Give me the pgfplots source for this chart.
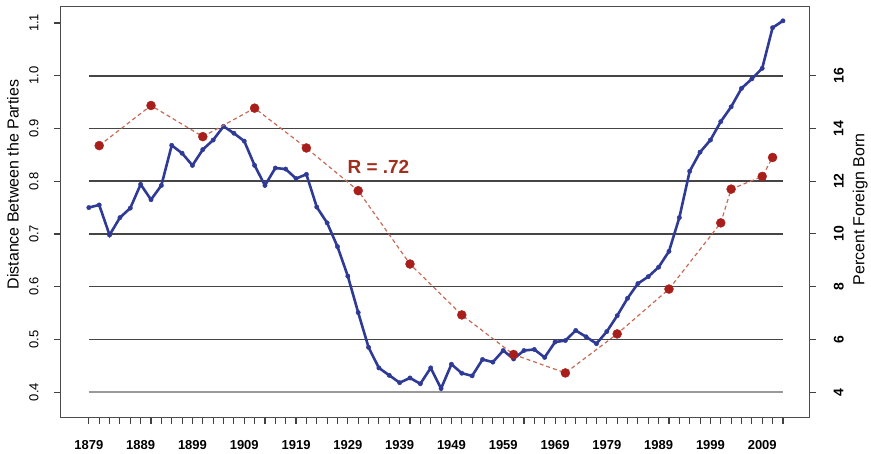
\documentclass[border=0pt]{standalone}
\usepackage{pgfplots}
\pgfplotsset{compat=1.18}
\usepackage{fontspec}
\setmainfont{Liberation Sans}
\definecolor{blueline}{HTML}{2E3A96}
\definecolor{reddot}{HTML}{A81E1A}
\definecolor{reddash}{HTML}{C86A55}
\definecolor{rtext}{HTML}{A0301E}
\definecolor{gridc}{HTML}{454545}
\begin{document}
\begin{tikzpicture}
\pgfplotsset{
  base/.style={
    scale only axis, width=750pt, height=411pt,
    xmin=1873.6, xmax=2018.1,
    tick align=outside,
    major tick length=7pt,
    every tick/.style={color=black!75, line width=1.1pt},
  }
}
\begin{axis}[base,
  ymin=0.3527, ymax=1.1303,
  axis line style={black!70, line width=1pt},
  xtick={1879,1881,...,2013},
  xticklabels={1879,,,,,1889,,,,,1899,,,,,1909,,,,,1919,,,,,1929,,,,,1939,,,,,1949,,,,,1959,,,,,1969,,,,,1979,,,,,1989,,,,,1999,,,,,2009,,},
  xtick pos=left, ytick pos=left,
  ytick={0.4,0.5,0.6,0.7,0.8,0.9,1.0,1.1},
  yticklabels={0.4,0.5,0.6,0.7,0.8,0.9,1.0,1.1},
  xticklabel style={font=\fontsize{13}{15}\selectfont\bfseries, yshift=-13pt},
  yticklabel style={font=\fontsize{13}{15}\selectfont, xshift=-12pt, rotate=90, anchor=south},
  ylabel={Distance Between the Parties},
  every axis y label/.style={at={(axis description cs:-0.064,0.567)}, rotate=90, anchor=center, font=\fontsize{16}{18}\selectfont},
]
\addplot[gridc!55, line width=1.6pt, forget plot] coordinates {(1879,0.4) (2013,0.4)};
\addplot[gridc, line width=1.6pt, forget plot] coordinates {(1879,0.5) (2013,0.5)};
\addplot[gridc, line width=1.6pt, forget plot] coordinates {(1879,0.6) (2013,0.6)};
\addplot[gridc, line width=1.6pt, forget plot] coordinates {(1879,0.7) (2013,0.7)};
\addplot[gridc, line width=1.6pt, forget plot] coordinates {(1879,0.8) (2013,0.8)};
\addplot[gridc, line width=1.6pt, forget plot] coordinates {(1879,0.9) (2013,0.9)};
\addplot[gridc, line width=1.6pt, forget plot] coordinates {(1879,1.0) (2013,1.0)};
\addplot[blueline, line width=2.6pt, mark=*, mark size=2.2pt, mark options={fill=blueline, draw=blueline, line width=0.4pt}] table {
year d
1879 0.750
1881 0.755
1883 0.698
1885 0.731
1887 0.749
1889 0.794
1891 0.765
1893 0.792
1895 0.868
1897 0.853
1899 0.830
1901 0.860
1903 0.878
1905 0.904
1907 0.891
1909 0.876
1911 0.830
1913 0.792
1915 0.825
1917 0.823
1919 0.805
1921 0.813
1923 0.751
1925 0.721
1927 0.676
1929 0.620
1931 0.551
1933 0.485
1935 0.446
1937 0.432
1939 0.418
1941 0.427
1943 0.416
1945 0.446
1947 0.407
1949 0.453
1951 0.436
1953 0.431
1955 0.462
1957 0.457
1959 0.479
1961 0.463
1963 0.479
1965 0.481
1967 0.466
1969 0.495
1971 0.498
1973 0.517
1975 0.505
1977 0.492
1979 0.515
1981 0.545
1983 0.578
1985 0.606
1987 0.619
1989 0.637
1991 0.667
1993 0.731
1995 0.819
1997 0.855
1999 0.878
2001 0.913
2003 0.941
2005 0.976
2007 0.994
2009 1.014
2011 1.091
2013 1.104
};
\node[text=rtext, font=\fontsize{19}{21}\selectfont\bfseries] at (axis cs:1934.9,0.8276) {R = .72};
\end{axis}
\begin{axis}[base,
  ymin=3.054, ymax=18.606,
  axis x line=none, axis y line*=right,
  axis line style={black!70, line width=1pt, -},
  ytick={4,6,8,10,12,14,16},
  yticklabels={4,6,8,10,12,14,16},
  yticklabel style={font=\fontsize{14}{16}\selectfont\bfseries, xshift=14pt, rotate=90, anchor=north},
  ylabel={Percent Foreign Born},
  every axis y label/.style={at={(axis description cs:1.068,0.506)}, rotate=90, anchor=center, font=\fontsize{16}{18}\selectfont},
]
\addplot[reddash, line width=1.2pt, dash pattern=on 4pt off 3pt, mark=*, mark size=4.5pt, mark options={solid, fill=reddot, draw=reddot, line width=0.4pt}] table {
year p
1881 13.35
1891 14.87
1901 13.69
1911 14.77
1921 13.26
1931 11.64
1941 8.86
1951 6.93
1961 5.43
1971 4.73
1981 6.21
1991 7.91
2001 10.42
2003 11.70
2009 12.18
2011 12.90
};
\end{axis}
\path (-61pt,-35pt) rectangle (810pt,418pt);
\end{tikzpicture}
\end{document}
